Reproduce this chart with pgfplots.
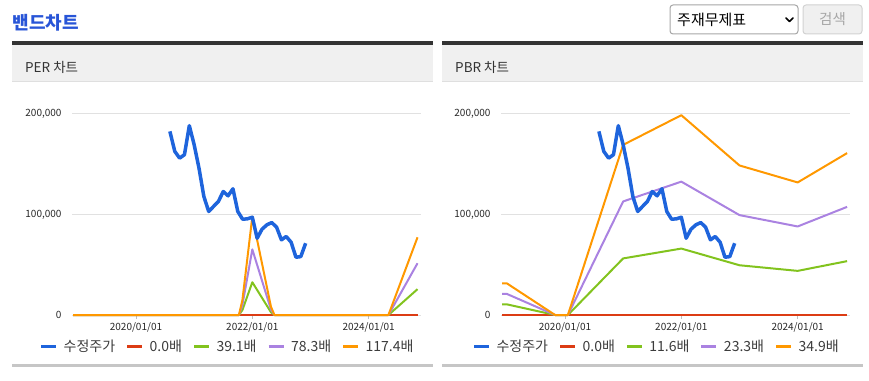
\documentclass[border=0pt]{standalone}
\usepackage{fontspec}
\setmainfont{Noto Sans CJK KR}
\usepackage{pgfplots}
\pgfplotsset{compat=1.18}
\definecolor{cblue}{RGB}{30,100,220}
\definecolor{cred}{RGB}{220,60,20}
\definecolor{cgreen}{RGB}{130,195,30}
\definecolor{cpurple}{RGB}{170,130,225}
\definecolor{corange}{RGB}{255,152,0}
\definecolor{titleblue}{RGB}{40,85,215}
\definecolor{gridgray}{RGB}{225,225,225}
\definecolor{tickgray}{RGB}{190,190,190}
\definecolor{labelgray}{RGB}{40,40,40}
\definecolor{legendgray}{RGB}{60,60,60}
\definecolor{darkline}{RGB}{51,51,51}
\definecolor{bandbg}{RGB}{240,240,240}
\pgfplotsset{bandaxis/.style={
  scale only axis, width=349pt, height=201pt, anchor=south west,
  xmin=2018.9, xmax=2024.9, ymin=0, ymax=200000,
  xtick={2020,2022,2024}, xticklabels={2020/01/01,2022/01/01,2024/01/01},
  ytick={0,100000,200000}, yticklabels={0,{100,000},{200,000}},
  scaled y ticks=false,
  axis lines*=left,
  axis line style={draw=none},
  ymajorgrids, grid style={draw=gridgray, line width=1pt},
  tick align=outside, major tick length=4pt,
  xtick style={draw=tickgray, line width=0.8pt}, ytick style={draw=none},
  ticklabel style={font=\fontsize{10}{12}\selectfont, text=labelgray},
  yticklabel style={xshift=-3pt},
  /pgf/number format/assume math mode=true,
  clip=false,
  legend columns=-1,
  legend style={at={(0.443,-0.156)}, anchor=center, draw=none, fill=none,
    font=\fontsize{14}{16}\selectfont, text=legendgray,
    nodes={inner sep=0pt},
    /tikz/every odd column/.append style={column sep=6pt},
    /tikz/every even column/.append style={column sep=10.5pt}},
  legend image code/.code={\draw[##1, line width=3pt] (0pt,0pt) -- (15pt,0pt);},
  every axis plot/.append style={line join=round, line width=2pt},
}}
\pgfplotstableread{
x y
2020.583 182700
2020.667 162800
2020.750 156100
2020.833 159500
2020.917 188400
2021.000 169400
2021.083 146200
2021.167 117900
2021.250 103000
2021.333 108000
2021.417 113000
2021.500 122900
2021.583 118600
2021.667 125600
2021.750 103000
2021.833 95300
2021.917 95700
2022.000 97300
2022.083 76400
2022.167 85400
2022.250 89700
2022.333 92000
2022.417 87400
2022.500 74800
2022.583 78100
2022.667 72400
2022.750 57500
2022.833 58100
2022.917 71400
}\price
\pgfplotstableread{
x r g p o
2018.92 0 0 0 0
2021.77 0 0 0 0
2021.83 0 5000 10000 15000
2022.00 0 32600 65300 97900
2022.32 0 2800 5500 8300
2022.38 0 0 0 0
2024.34 0 0 0 0
2024.84 0 25700 51500 77300
}\perband
\pgfplotstableread{
x r g p o
2018.92 0 10600 21000 31500
2019.00 0 10600 21000 31500
2019.83 0 0 0 0
2020.05 0 0 0 0
2021.00 0 56300 113000 169300
2022.00 0 66100 132700 198800
2023.00 0 49500 99400 148800
2024.00 0 43900 88100 131900
2024.85 0 53600 107600 161100
}\pbrband
\begin{document}
\begin{tikzpicture}
\path[use as bounding box] (0pt,0pt) rectangle (869pt,380pt);
% title and controls
\node[anchor=west, inner sep=0pt, text=titleblue, font=\fontsize{18}{21}\selectfont\bfseries] at (12.5pt,357.5pt) {밴드차트};
\draw[rounded corners=3pt, draw=gray!70, line width=1pt, fill=white] (670pt,375pt) rectangle (798pt,346pt);
\node[anchor=west, inner sep=0pt, font=\fontsize{15}{17}\selectfont] at (677pt,360.5pt) {주재무제표};
\draw[line width=1.7pt, line cap=round, line join=round] (786pt,362pt) -- (789.5pt,358.5pt) -- (793pt,362pt);
\draw[rounded corners=3pt, draw=gray!35, line width=1pt, fill=gray!12] (803pt,375pt) rectangle (862pt,346pt);
\node[inner sep=0pt, text=gray!70, font=\fontsize{14.5}{17}\selectfont] at (832.5pt,360.5pt) {검색};
% panels
\foreach \xa/\xb/\lab in {12/433/PER 차트, 442/863/PBR 차트}{
  \fill[bandbg] (\xa pt,336pt) rectangle (\xb pt,298pt);
  \draw[gray!25, line width=1pt] (\xa pt,298pt) -- (\xb pt,298pt);
  \draw[darkline, line width=3.5pt] (\xa pt,337pt) -- (\xb pt,337pt);
  \draw[gray!45, line width=3pt] (\xa pt,14.5pt) -- (\xb pt,14.5pt);
  \node[anchor=west, inner sep=0pt, text=darkline, font=\fontsize{13.5}{16}\selectfont] at (\xa pt+13pt,313pt) {\lab};
}
% PER chart
\begin{axis}[bandaxis, at={(72pt,65pt)}]
\addlegendimage{cblue}
\addlegendentry{수정주가}
\addplot[cred] table[x=x,y=r] {\perband};
\addlegendentry{0.0배}
\addplot[cgreen] table[x=x,y=g] {\perband};
\addlegendentry{39.1배}
\addplot[cpurple] table[x=x,y=p] {\perband};
\addlegendentry{78.3배}
\addplot[corange] table[x=x,y=o] {\perband};
\addlegendentry{117.4배}
\addplot[cblue, line width=3.5pt, forget plot] table[x=x,y=y] {\price};
\end{axis}
% PBR chart
\begin{axis}[bandaxis, at={(501pt,65pt)}]
\addlegendimage{cblue}
\addlegendentry{수정주가}
\addplot[cred] table[x=x,y=r] {\pbrband};
\addlegendentry{0.0배}
\addplot[cgreen] table[x=x,y=g] {\pbrband};
\addlegendentry{11.6배}
\addplot[cpurple] table[x=x,y=p] {\pbrband};
\addlegendentry{23.3배}
\addplot[corange] table[x=x,y=o] {\pbrband};
\addlegendentry{34.9배}
\addplot[cblue, line width=3.5pt, forget plot] table[x=x,y=y] {\price};
\end{axis}
\end{tikzpicture}
\end{document}
